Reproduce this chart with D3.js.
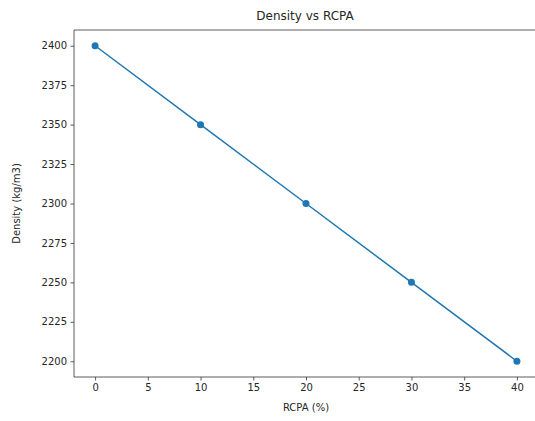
<!DOCTYPE html>
<html>
<head>
<meta charset="utf-8">
<style>
body { margin: 0; background: #fff; overflow: hidden; }
svg { display: block; }
text { font-family: "DejaVu Sans", sans-serif; fill: #262626; }
</style>
</head>
<body>
<script src="https://cdn.jsdelivr.net/npm/d3@7"></script>
<script>
// data
var rcpa = [0, 10, 20, 30, 40];
var density = [2400, 2350, 2300, 2250, 2200];
var xTicks = [0, 5, 10, 15, 20, 25, 30, 35, 40];
var yTicks = [2200, 2225, 2250, 2275, 2300, 2325, 2350, 2375, 2400];

var width = 535, height = 421;
var margin = {top: 30, right: -3, bottom: 44, left: 74};
var w = width - margin.left - margin.right,
    h = height - margin.top - margin.bottom;

var svg = d3.select("body").append("svg")
    .attr("width", width)
    .attr("height", height);

var g = svg.append("g")
    .attr("transform", "translate(" + margin.left + "," + margin.top + ")");

// matplotlib style 5% margins
var x = d3.scaleLinear().domain([-2, 42]).range([0, w]);
var y = d3.scaleLinear().domain([2190, 2410]).range([h, 0]);

var xAxis = g.append("g")
    .attr("transform", "translate(0," + h + ")")
    .call(d3.axisBottom(x).tickValues(xTicks).tickFormat(d3.format("d")).tickSize(3.5).tickPadding(3.5));
var yAxis = g.append("g")
    .call(d3.axisLeft(y).tickValues(yTicks).tickFormat(d3.format("d")).tickSize(3.5).tickPadding(3.5));

[xAxis, yAxis].forEach(function(a) {
  a.select(".domain").remove();
  a.selectAll("line").attr("stroke", "#333").attr("stroke-width", 0.8);
  a.selectAll("text").style("font-size", "10px").attr("fill", "#262626");
});

// spines (right one falls outside the cropped picture)
var spines = [[0, 0, w, 0], [0, 0, 0, h], [0, h, w, h], [w, 0, w, h]];
g.selectAll(".spine")
    .data(spines)
    .enter().append("line")
    .attr("class", "spine")
    .attr("x1", function(d) { return d[0]; })
    .attr("y1", function(d) { return d[1]; })
    .attr("x2", function(d) { return d[2]; })
    .attr("y2", function(d) { return d[3]; })
    .attr("stroke", "#333")
    .attr("stroke-width", 0.8);

var pts = rcpa.map(function(d, i) { return {x: d, y: density[i]}; });

g.append("path")
    .datum(pts)
    .attr("fill", "none")
    .attr("stroke", "#1f77b4")
    .attr("stroke-width", 1.5)
    .attr("d", d3.line().x(function(d) { return x(d.x); }).y(function(d) { return y(d.y); }));

g.selectAll("circle")
    .data(pts)
    .enter().append("circle")
    .attr("cx", function(d) { return x(d.x); })
    .attr("cy", function(d) { return y(d.y); })
    .attr("r", 3.5)
    .attr("fill", "#1f77b4");

// labels
svg.append("text")
    .attr("x", 305).attr("y", 20)
    .attr("text-anchor", "middle")
    .style("font-size", "12px")
    .text("Density vs RCPA");

svg.append("text")
    .attr("x", 306).attr("y", 411)
    .attr("text-anchor", "middle")
    .style("font-size", "10px")
    .text("RCPA (%)");

svg.append("text")
    .attr("transform", "translate(20," + (margin.top + h / 2) + ") rotate(-90)")
    .attr("text-anchor", "middle")
    .style("font-size", "10px")
    .text("Density (kg/m3)");
</script>
</body>
</html>
